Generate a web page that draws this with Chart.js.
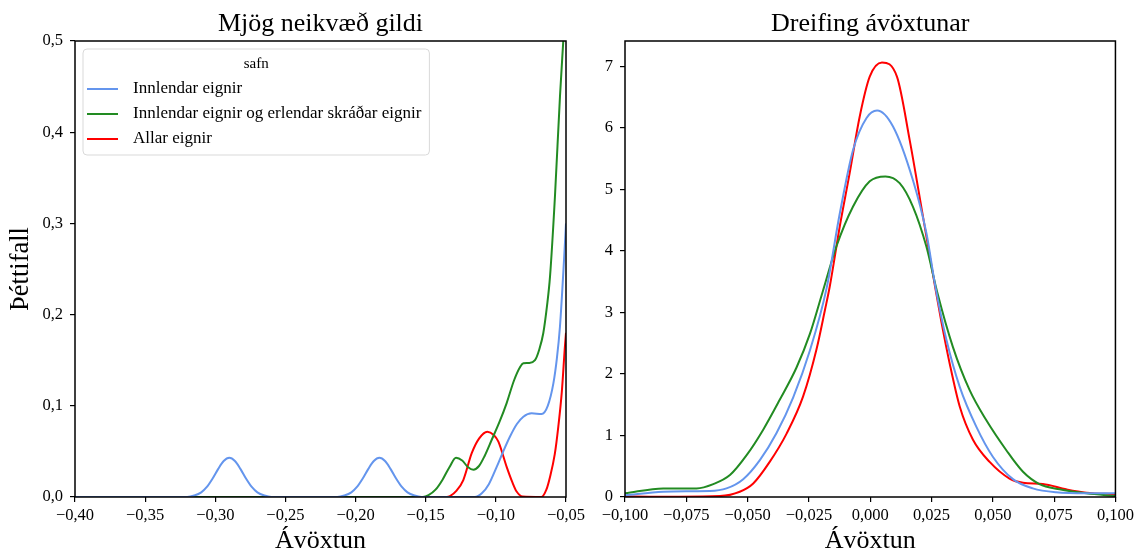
<!DOCTYPE html>
<html lang="is">
<head>
    <meta charset="UTF-8">
    <title>Dreifing ávöxtunar</title>
    <script src="https://cdn.jsdelivr.net/npm/chart.js"></script>
    <style>
        body { margin: 0; background: #fff; }
        #wrap { position: relative; width: 1138px; height: 554px; }
        #leftChart { position: absolute; left: 0; top: 0; }
        #rightChart { position: absolute; left: 590px; top: 0; }
    </style>
</head>
<body>
<div id="wrap">
    <canvas id="leftChart" width="600" height="554"></canvas>
    <canvas id="rightChart" width="548" height="554"></canvas>
</div>

<script>
    // heiti og litir safna
    const seriesNames = ['Innlendar eignir', 'Innlendar eignir og erlendar skráðar eignir', 'Allar eignir'];
    const seriesColors = ['#6495ED', '#228B22', '#FF0000'];

    // vinstri mynd: mjög neikvæð gildi
    const negTicksX = [-0.40, -0.35, -0.30, -0.25, -0.20, -0.15, -0.10, -0.05];
    const negTicksY = [0, 0.1, 0.2, 0.3, 0.4, 0.5];

    const negInnlendarX = [-0.40, -0.32, -0.315, -0.31, -0.306, -0.302, -0.298, -0.294, -0.29, -0.286, -0.282, -0.278, -0.274, -0.27, -0.265, -0.26,
        -0.213, -0.208, -0.203, -0.199, -0.195, -0.191, -0.187, -0.183, -0.179, -0.175, -0.171, -0.167, -0.163, -0.158, -0.153,
        -0.115, -0.11, -0.105, -0.0994, -0.095, -0.09, -0.085, -0.0804, -0.0745, -0.0674, -0.063, -0.059, -0.0565, -0.0543, -0.0514, -0.05];
    const negInnlendarY = [0, 0, 0.0016, 0.0051, 0.011, 0.020, 0.0306, 0.0395, 0.043, 0.0395, 0.0306, 0.020, 0.011, 0.0051, 0.0016, 0,
        0, 0.0016, 0.0051, 0.011, 0.020, 0.0306, 0.0395, 0.043, 0.0395, 0.0306, 0.020, 0.011, 0.0051, 0.0016, 0,
        0, 0.004, 0.014, 0.033, 0.049, 0.066, 0.080, 0.088, 0.0917, 0.091, 0.100, 0.1246, 0.152, 0.187, 0.26, 0.30];

    const negErlendarX = [-0.40, -0.152, -0.148, -0.143, -0.138, -0.133, -0.1284, -0.124, -0.12, -0.116, -0.112, -0.108, -0.103, -0.0975, -0.0923,
        -0.087, -0.0825, -0.0804, -0.0765, -0.0721, -0.069, -0.0662, -0.0635, -0.0614, -0.0579, -0.0543, -0.0519, -0.05];
    const negErlendarY = [0, 0, 0.002, 0.008, 0.019, 0.033, 0.043, 0.040, 0.033, 0.030, 0.034, 0.045, 0.0625, 0.082, 0.103,
        0.128, 0.143, 0.1466, 0.147, 0.150, 0.162, 0.1795, 0.21, 0.2416, 0.329, 0.439, 0.501, 0.55];

    const negAllarX = [-0.40, -0.135, -0.1327, -0.128, -0.1232, -0.1172, -0.112, -0.1061, -0.1015, -0.0982, -0.0923, -0.0882, -0.0852, -0.081,
        -0.0675, -0.064, -0.0614, -0.058, -0.0555, -0.053, -0.0507, -0.05];
    const negAllarY = [0, 0, 0.001, 0.007, 0.0186, 0.048, 0.064, 0.0716, 0.068, 0.0607, 0.033, 0.016, 0.006, 0.0005,
        0, 0.008, 0.022, 0.047, 0.077, 0.115, 0.1667, 0.18];

    // hægri mynd: dreifing ávöxtunar
    const distTicksX = [-0.1, -0.075, -0.05, -0.025, 0, 0.025, 0.05, 0.075, 0.1];
    const distTicksY = [0, 1, 2, 3, 4, 5, 6, 7];

    const distInnlendarX = [-0.1, -0.0844, -0.075, -0.0654, -0.0586, -0.0518, -0.045, -0.0382, -0.0314, -0.0246, -0.0178, -0.0124, -0.007, -0.0015,
        0.0028, 0.0093, 0.0174, 0.0229, 0.0267, 0.0311, 0.0365, 0.0433, 0.05, 0.0582, 0.0663, 0.0758, 0.0881, 0.1];
    const distInnlendarY = [0.03, 0.086, 0.095, 0.098, 0.14, 0.29, 0.60, 1.04, 1.62, 2.38, 3.39, 4.61, 5.64, 6.16,
        6.28, 6.02, 5.15, 4.29, 3.39, 2.55, 1.79, 1.14, 0.655, 0.29, 0.14, 0.076, 0.06, 0.06];

    const distErlendarX = [-0.1, -0.0844, -0.0708, -0.064, -0.0572, -0.0504, -0.0437, -0.0369, -0.0301, -0.0246, -0.0195, -0.0138, -0.007, -0.0002,
        0.0062, 0.012, 0.0174, 0.0229, 0.0273, 0.0337, 0.0405, 0.0473, 0.0555, 0.0623, 0.069, 0.0772, 0.0881, 0.1];
    const distErlendarY = [0.06, 0.14, 0.14, 0.21, 0.357, 0.68, 1.09, 1.58, 2.10, 2.65, 3.32, 4.07, 4.72, 5.13,
        5.21, 5.10, 4.72, 4.07, 3.33, 2.44, 1.74, 1.25, 0.76, 0.41, 0.21, 0.125, 0.06, 0.016];

    const distAllarX = [-0.1, -0.09, -0.078, -0.0613, -0.0532, -0.0477, -0.041, -0.0341, -0.0274, -0.0219, -0.0184, -0.0165, -0.0124, -0.0084, -0.0043,
        -0.0002, 0.0048, 0.0109, 0.0161, 0.0215, 0.0263, 0.029, 0.0324, 0.0365, 0.0419, 0.0487, 0.0568, 0.0623, 0.0704, 0.0799, 0.0881, 0.1];
    const distAllarY = [0.008, 0.006, 0.005, 0.015, 0.086, 0.22, 0.57, 1.03, 1.63, 2.40, 3.05, 3.42, 4.40, 5.26, 6.18,
        6.83, 7.06, 6.83, 5.80, 4.56, 3.45, 2.85, 2.17, 1.47, 0.93, 0.57, 0.30, 0.23, 0.21, 0.125, 0.07, 0.045];

    const FONT = '"Liberation Serif", "DejaVu Serif", serif';

    // tala með kommu og réttu mínusmerki
    function fmt(v, d) {
        if (Math.abs(v) < 1e-9) v = 0;
        return v.toFixed(d).replace('.', ',').replace('-', '\u2212');
    }

    function toPoints(xs, ys) {
        return xs.map((x, i) => ({ x: x, y: ys[i] }));
    }

    function makeDatasets(xsList, ysList) {
        return seriesNames.map((name, i) => ({
            label: name,
            data: toPoints(xsList[i], ysList[i]),
            borderColor: seriesColors[i],
            backgroundColor: seriesColors[i],
            borderWidth: 2,
            pointRadius: 0,
            fill: false,
            cubicInterpolationMode: 'monotone'
        }));
    }

    // rammi utan um teiknisvæðið
    const frame = {
        id: 'frame',
        afterDraw(chart) {
            const { ctx, chartArea: a } = chart;
            ctx.save();
            ctx.strokeStyle = '#000';
            ctx.lineWidth = 1.5;
            ctx.strokeRect(a.left, a.top, a.right - a.left, a.bottom - a.top);
            ctx.restore();
        }
    };

    // skýringar inni í vinstri mynd
    const legendBox = {
        id: 'legendBox',
        afterDatasetsDraw(chart) {
            const { ctx, chartArea: a } = chart;
            const sets = chart.data.datasets;
            ctx.save();
            ctx.font = '17px ' + FONT;
            let w = 0;
            sets.forEach(ds => { w = Math.max(w, ctx.measureText(ds.label).width); });
            const x = a.left + 8, y = a.top + 8;
            const bw = 50 + w + 8, bh = 106;
            ctx.beginPath();
            ctx.roundRect(x, y, bw, bh, 4);
            ctx.fillStyle = 'rgba(255,255,255,0.8)';
            ctx.fill();
            ctx.strokeStyle = '#d9d9d9';
            ctx.lineWidth = 1;
            ctx.stroke();

            ctx.fillStyle = '#000';
            ctx.textBaseline = 'middle';
            ctx.textAlign = 'center';
            ctx.font = '15px ' + FONT;
            ctx.fillText('safn', x + bw / 2, y + 15);

            ctx.textAlign = 'left';
            ctx.font = '17px ' + FONT;
            sets.forEach((ds, i) => {
                const ry = y + 40 + i * 25;
                ctx.strokeStyle = ds.borderColor;
                ctx.lineWidth = 2;
                ctx.beginPath();
                ctx.moveTo(x + 4, ry);
                ctx.lineTo(x + 35, ry);
                ctx.stroke();
                ctx.fillText(ds.label, x + 50, ry);
            });
            ctx.restore();
        }
    };

    function axisX(min, max, tickList, digits, title) {
        return {
            type: 'linear',
            min: min,
            max: max,
            afterBuildTicks: s => { s.ticks = tickList.map(v => ({ value: v })); },
            afterFit: s => { s.height = 57; },
            ticks: {
                callback: v => fmt(v, digits),
                font: { family: FONT, size: 16.5 },
                color: '#000',
                padding: 4,
                maxRotation: 0,
                autoSkip: false
            },
            grid: { drawOnChartArea: false, drawTicks: true, tickLength: 5, color: '#000', lineWidth: 1.2 },
            border: { display: false },
            title: { display: true, text: title, color: '#000', font: { family: FONT, size: 26, lineHeight: 1 }, padding: 0 }
        };
    }

    function axisY(min, max, tickList, digits, width, title) {
        const cfg = {
            type: 'linear',
            min: min,
            max: max,
            afterBuildTicks: s => { s.ticks = tickList.map(v => ({ value: v })); },
            afterFit: s => { s.width = width; },
            ticks: {
                callback: v => fmt(v, digits),
                font: { family: FONT, size: 16.5 },
                color: '#000',
                padding: 7
            },
            grid: { drawOnChartArea: false, drawTicks: true, tickLength: 5, color: '#000', lineWidth: 1.2 },
            border: { display: false }
        };
        if (title) {
            cfg.title = { display: true, text: title, color: '#000', font: { family: FONT, size: 26.5, lineHeight: 1 }, padding: { top: 8, bottom: 0 } };
        }
        return cfg;
    }

    function titleOpts(text) {
        return {
            display: true,
            text: text,
            fullSize: false,
            color: '#000',
            font: { family: FONT, size: 26, weight: 'normal', lineHeight: 1.2 },
            padding: { top: 9, bottom: 0.8 }
        };
    }

    new Chart(document.getElementById('leftChart'), {
        type: 'line',
        data: {
            datasets: makeDatasets(
                [negInnlendarX, negErlendarX, negAllarX],
                [negInnlendarY, negErlendarY, negAllarY])
        },
        options: {
            responsive: false,
            animation: false,
            layout: { padding: { left: 0, right: 34, top: 0, bottom: 0 } },
            plugins: {
                legend: { display: false },
                tooltip: { enabled: false },
                title: titleOpts('Mjög neikvæð gildi')
            },
            scales: {
                x: axisX(-0.40, -0.05, negTicksX, 2, 'Ávöxtun'),
                y: axisY(0, 0.5, negTicksY, 1, 75, 'Þéttifall')
            }
        },
        plugins: [frame, legendBox]
    });

    new Chart(document.getElementById('rightChart'), {
        type: 'line',
        data: {
            datasets: makeDatasets(
                [distInnlendarX, distErlendarX, distAllarX],
                [distInnlendarY, distErlendarY, distAllarY])
        },
        options: {
            responsive: false,
            animation: false,
            layout: { padding: { left: 0, right: 22, top: 0, bottom: 0 } },
            plugins: {
                legend: { display: false },
                tooltip: { enabled: false },
                title: titleOpts('Dreifing ávöxtunar')
            },
            scales: {
                x: axisX(-0.1, 0.1, distTicksX, 3, 'Ávöxtun'),
                y: axisY(0, 7.41, distTicksY, 0, 35, null)
            }
        },
        plugins: [frame]
    });
</script>
</body>
</html>
